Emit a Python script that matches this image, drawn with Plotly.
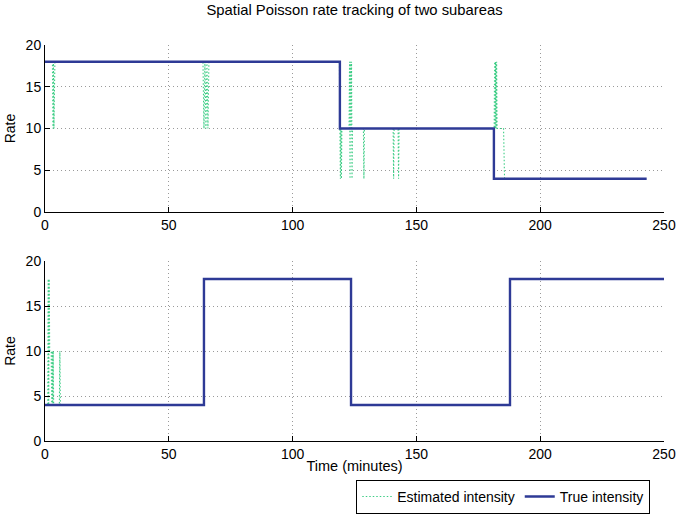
import plotly.graph_objects as go
from plotly.subplots import make_subplots

# True intensity step points (minutes, events rate)
top_true_t = [0, 119.1, 181.3, 243]
top_true_v = [18, 10, 4, 4]
bot_true_t = [0, 64.2, 123.6, 187.8, 250]
bot_true_v = [4, 18, 4, 18, 18]

# Estimated intensity, subarea 1
top_est_t = [0, 3.0, 3.2, 3.4, 3.6, 3.8, 4.0,
             63.8, 64.2, 64.6, 65.0, 65.4, 65.8, 66.2, 66.6,
             118.9, 119.1, 119.3, 119.5, 119.7, 119.9,
             122.8, 123.0, 123.2, 123.4, 123.6, 123.8, 124.0, 124.2,
             128.6, 128.8, 129.0,
             140.6, 140.8, 141.0, 142.6, 142.8, 143.0,
             181.4, 181.6, 181.8, 182.0, 182.2, 182.4, 182.6,
             185.2, 185.4, 185.6, 243]
top_est_v = [18, 18, 10, 18, 10, 18, 18,
             18, 10, 18, 10, 18, 10, 18, 18,
             18, 10, 4, 10, 4, 10,
             10, 18, 4, 18, 10, 18, 4, 10,
             10, 4, 10,
             10, 4, 10, 10, 4, 10,
             10, 18, 10, 18, 10, 18, 10,
             10, 4, 4, 4]

# Estimated intensity, subarea 2
bot_est_t = [0, 1.1, 1.3, 1.5, 1.7, 1.9, 2.5, 2.7, 2.9, 3.1, 3.3, 3.5,
             5.8, 6.0, 6.2, 64.2, 64.2, 123.6, 123.6, 187.8, 187.8, 250]
bot_est_v = [4, 4, 18, 4, 18, 10, 10, 4, 10, 4, 10, 4,
             4, 10, 4, 4, 18, 18, 4, 4, 18, 18]

EST_COLOR = "rgba(40,200,120,0.9)"
TRUE_COLOR = "#2e3a96"
FONT = "Liberation Sans, Arial, Helvetica, sans-serif"

fig = make_subplots(rows=2, cols=1, vertical_spacing=0.124)

panels = [(top_est_t, top_est_v, top_true_t, top_true_v),
          (bot_est_t, bot_est_v, bot_true_t, bot_true_v)]
for i, (et, ev, tt, tv) in enumerate(panels, start=1):
    fig.add_trace(go.Scatter(x=et, y=ev, mode="lines", name="Estimated intensity",
                             line=dict(color=EST_COLOR, width=1.1, dash="1.5px,2px"),
                             showlegend=(i == 1)), row=i, col=1)
    fig.add_trace(go.Scatter(x=tt, y=tv, mode="lines", name="True intensity",
                             line=dict(color=TRUE_COLOR, width=2.4, shape="hv"),
                             showlegend=(i == 1)), row=i, col=1)

axis_style = dict(showline=True, linecolor="black", linewidth=1, mirror=False,
                  ticks="inside", ticklen=5, tickcolor="black", automargin=False,
                  showgrid=True, gridcolor="#9a9a9a", griddash="1px,3px", gridwidth=1,
                  zeroline=False, tickfont=dict(size=14, color="black", family=FONT))

for r in (1, 2):
    fig.update_xaxes(range=[0, 250], tick0=0, dtick=50, row=r, col=1, **axis_style)
    fig.update_yaxes(range=[0, 20], tick0=0, dtick=5, row=r, col=1,
                     title=dict(text="Rate", font=dict(size=14, family=FONT, color="black"), standoff=6),
                     **axis_style)
fig.update_xaxes(title=dict(text="Time (minutes)", font=dict(size=14.5, family=FONT, color="black"),
                            standoff=0), row=2, col=1)
fig.update_yaxes(domain=[0.578, 1.0], row=1, col=1)
fig.update_yaxes(domain=[0.0, 0.4545], row=2, col=1)

fig.update_layout(
    width=676, height=516,
    margin=dict(l=45, r=12, t=45, b=75, autoexpand=False),
    paper_bgcolor="white", plot_bgcolor="white",
    font=dict(family=FONT, color="black"),
    title=dict(text="Spatial Poisson rate tracking of two subareas", x=0.5, xref="paper",
               y=0.981, yref="container", yanchor="middle",
               font=dict(size=14.8, family=FONT, color="black")),
    legend=dict(orientation="h", x=0.527, xref="container", xanchor="left",
                y=0.07, yref="container", yanchor="top",
                bordercolor="black", borderwidth=1, bgcolor="white",
                font=dict(size=14, family=FONT, color="black"),
                itemwidth=30, tracegroupgap=0),
)

fig.write_html("out.html")
